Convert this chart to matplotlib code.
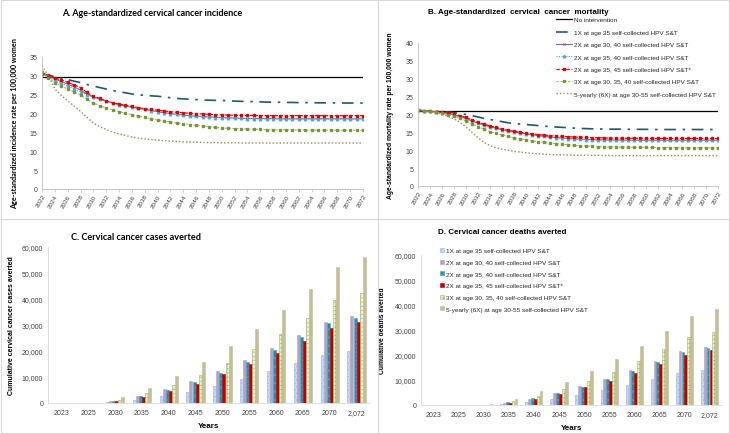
import numpy as np
import matplotlib
matplotlib.use("Agg")
import matplotlib.pyplot as plt
from matplotlib.lines import Line2D
from matplotlib.patches import Rectangle

plt.rcParams['font.family'] = ['Liberation Sans', 'DejaVu Sans']
plt.rcParams['hatch.linewidth'] = 0.4

years = list(range(2022, 2073))

labels = ["No intervention",
          "1X at age 35 self-collected HPV S&T",
          "2X at age 30, 40 self-collected HPV S&T",
          "2X at age 35, 40 self-collected HPV S&T",
          "2X at age 35, 45 self-collected HPV S&T*",
          "3X at age 30, 35, 40 self-collected HPV S&T",
          "5-yearly (6X) at age 30-55 self-collected HPV S&T"]

# ---- A. incidence per 100,000 (2022..2072)
inc_none = [29.7, 29.7, 29.7, 29.7, 29.7, 29.7, 29.7, 29.7, 29.7, 29.7,
            29.7, 29.7, 29.7, 29.7, 29.7, 29.7, 29.7, 29.7, 29.7, 29.7,
            29.7, 29.7, 29.7, 29.7, 29.7, 29.7, 29.7, 29.7, 29.7, 29.7,
            29.7, 29.7, 29.7, 29.7, 29.7, 29.7, 29.7, 29.7, 29.7, 29.7,
            29.7, 29.7, 29.7, 29.7, 29.7, 29.7, 29.7, 29.7, 29.7, 29.7, 29.7]
inc_1x = [30.5, 30.2, 29.8, 29.4, 29.0, 28.6, 28.2, 27.7, 27.3, 26.9,
          26.5, 26.1, 25.8, 25.5, 25.2, 25.0, 24.8, 24.7, 24.6, 24.4,
          24.2, 24.0, 23.9, 23.8, 23.7, 23.6, 23.55, 23.5, 23.5, 23.4,
          23.3, 23.25, 23.2, 23.15, 23.1, 23.05, 23.0, 23.0, 22.95, 22.95,
          22.9, 22.9, 22.9, 22.85, 22.85, 22.85, 22.8, 22.8, 22.8, 22.8, 22.8]
inc_2x3040 = [30.6, 30.0, 29.2, 28.5, 27.8, 27.1, 26.2, 25.2, 24.4, 23.9,
              23.3, 22.8, 22.4, 22.0, 21.7, 21.4, 21.1, 20.8, 20.5, 20.2,
              20.0, 19.8, 19.6, 19.4, 19.3, 19.2, 19.1, 19.0, 18.9, 18.85,
              18.8, 18.75, 18.7, 18.7, 18.65, 18.65, 18.65, 18.6, 18.6, 18.6,
              18.6, 18.6, 18.6, 18.6, 18.6, 18.6, 18.6, 18.6, 18.6, 18.6, 18.6]
inc_2x3540 = [30.6, 29.8, 28.6, 28.0, 27.3, 26.6, 25.7, 25.0, 24.3, 23.8,
              23.3, 22.8, 22.4, 22.0, 21.7, 21.4, 21.1, 20.8, 20.5, 20.2,
              20.0, 19.8, 19.6, 19.4, 19.25, 19.15, 19.05, 18.95, 18.85, 18.8,
              18.75, 18.7, 18.65, 18.65, 18.6, 18.6, 18.6, 18.6, 18.55, 18.55,
              18.55, 18.55, 18.55, 18.55, 18.55, 18.55, 18.55, 18.55, 18.55, 18.55, 18.55]
inc_2x3545 = [30.8, 30.2, 29.5, 28.9, 28.3, 27.6, 26.9, 25.6, 24.6, 24.0,
              23.4, 22.9, 22.5, 22.2, 21.9, 21.6, 21.3, 21.1, 20.9, 20.7,
              20.5, 20.35, 20.2, 20.1, 20.0, 19.9, 19.8, 19.7, 19.65, 19.6,
              19.55, 19.5, 19.5, 19.5, 19.45, 19.45, 19.45, 19.45, 19.45, 19.45,
              19.45, 19.45, 19.45, 19.45, 19.45, 19.45, 19.45, 19.45, 19.45, 19.45, 19.45]
inc_3x = [31.0, 29.5, 28.2, 27.3, 26.5, 25.7, 24.9, 23.8, 22.8, 22.1,
          21.5, 21.0, 20.5, 20.1, 19.7, 19.3, 19.0, 18.6, 18.3, 18.0,
          17.8, 17.5, 17.3, 17.1, 16.9, 16.7, 16.5, 16.35, 16.2, 16.1,
          16.0, 15.95, 15.9, 15.85, 15.8, 15.75, 15.7, 15.7, 15.7, 15.65,
          15.65, 15.65, 15.65, 15.6, 15.6, 15.6, 15.6, 15.6, 15.6, 15.6, 15.6]
inc_6x = [32.7, 30.0, 26.5, 24.8, 23.4, 22.0, 20.6, 19.0, 17.5, 16.5,
          15.8, 15.1, 14.6, 14.2, 13.8, 13.5, 13.3, 13.1, 12.95, 12.8,
          12.7, 12.6, 12.5, 12.45, 12.4, 12.35, 12.3, 12.3, 12.25, 12.25,
          12.25, 12.2, 12.2, 12.2, 12.2, 12.2, 12.2, 12.2, 12.2, 12.2,
          12.2, 12.2, 12.2, 12.2, 12.2, 12.2, 12.2, 12.2, 12.2, 12.2, 12.2]

# ---- B. mortality per 100,000 (2022..2072)
mort_none = [20.9, 20.9, 20.9, 20.9, 20.9, 20.9, 20.9, 20.9, 20.9, 20.9,
             20.9, 20.9, 20.9, 20.9, 20.9, 20.9, 20.9, 20.9, 20.9, 20.9,
             20.9, 20.9, 20.9, 20.9, 20.9, 20.9, 20.9, 20.9, 20.9, 20.9,
             20.9, 20.9, 20.9, 20.9, 20.9, 20.9, 20.9, 20.9, 20.9, 20.9,
             20.9, 20.9, 20.9, 20.9, 20.9, 20.9, 20.9, 20.9, 20.9, 20.9, 20.9]
mort_1x = [21.1, 21.05, 21.0, 20.9, 20.8, 20.7, 20.5, 20.3, 20.0, 19.7,
           19.3, 18.9, 18.6, 18.3, 18.0, 17.7, 17.5, 17.35, 17.2, 17.05,
           16.9, 16.75, 16.6, 16.5, 16.4, 16.3, 16.2, 16.1, 16.05, 16.0,
           15.95, 15.95, 15.9, 15.9, 15.9, 15.85, 15.85, 15.85, 15.85, 15.8,
           15.8, 15.8, 15.8, 15.8, 15.8, 15.8, 15.8, 15.8, 15.8, 15.8, 15.8]
mort_2x3040 = [21.2, 21.1, 20.9, 20.7, 20.5, 20.2, 19.9, 19.4, 18.9, 18.2,
               17.6, 17.1, 16.6, 16.2, 15.8, 15.4, 15.1, 14.85, 14.6, 14.35,
               14.1, 13.9, 13.7, 13.55, 13.4, 13.3, 13.2, 13.1, 13.0, 12.95,
               12.9, 12.9, 12.85, 12.85, 12.85, 12.8, 12.8, 12.8, 12.8, 12.8,
               12.8, 12.8, 12.8, 12.8, 12.8, 12.8, 12.8, 12.8, 12.8, 12.8, 12.8]
mort_2x3540 = [21.2, 21.1, 20.9, 20.7, 20.5, 20.2, 19.9, 19.4, 18.8, 18.1,
               17.5, 17.0, 16.5, 16.1, 15.7, 15.35, 15.05, 14.8, 14.55, 14.3,
               14.05, 13.85, 13.65, 13.5, 13.35, 13.25, 13.15, 13.05, 12.95, 12.9,
               12.85, 12.85, 12.8, 12.8, 12.8, 12.75, 12.75, 12.75, 12.75, 12.75,
               12.75, 12.75, 12.75, 12.75, 12.75, 12.75, 12.75, 12.75, 12.75, 12.75, 12.75]
mort_2x3545 = [21.2, 21.1, 21.0, 20.8, 20.6, 20.4, 20.1, 19.7, 19.2, 18.5,
               17.8, 17.3, 16.8, 16.4, 16.0, 15.6, 15.3, 15.05, 14.8, 14.6,
               14.4, 14.25, 14.1, 14.0, 13.9, 13.8, 13.7, 13.65, 13.6, 13.55,
               13.5, 13.45, 13.4, 13.4, 13.4, 13.35, 13.35, 13.35, 13.35, 13.3,
               13.3, 13.3, 13.3, 13.3, 13.3, 13.3, 13.3, 13.3, 13.3, 13.3, 13.3]
mort_3x = [21.2, 21.05, 20.9, 20.7, 20.4, 20.0, 19.6, 19.0, 18.2, 17.4,
           16.6, 15.9, 15.2, 14.7, 14.3, 13.9, 13.5, 13.2, 12.9, 12.6,
           12.4, 12.2, 12.0, 11.85, 11.7, 11.55, 11.4, 11.3, 11.2, 11.1,
           11.0, 10.95, 10.9, 10.9, 10.85, 10.85, 10.8, 10.8, 10.8, 10.8,
           10.75, 10.75, 10.75, 10.75, 10.7, 10.7, 10.7, 10.7, 10.7, 10.7, 10.7]
mort_6x = [21.2, 21.0, 20.8, 20.5, 20.1, 19.5, 18.8, 17.8, 16.5, 15.0,
           13.5, 12.2, 11.3, 10.7, 10.3, 10.0, 9.7, 9.5, 9.3, 9.15,
           9.0, 8.9, 8.8, 8.75, 8.7, 8.65, 8.6, 8.6, 8.6, 8.55,
           8.55, 8.55, 8.55, 8.5, 8.5, 8.5, 8.5, 8.5, 8.5, 8.5,
           8.5, 8.5, 8.5, 8.5, 8.5, 8.5, 8.5, 8.5, 8.5, 8.5, 8.5]

# ---- C / D cumulative averted
bar_cats = ["2023", "2025", "2030", "2035", "2040", "2045", "2050", "2055",
            "2060", "2065", "2070", "2,072"]
cases_1x = [0, 0, 300, 1200, 2600, 4400, 6600, 9300, 12200, 15200, 18600, 19900]
cases_2x3040 = [0, 0, 800, 2600, 5200, 8400, 12200, 16400, 21200, 26100, 31300, 33500]
cases_2x3540 = [0, 0, 900, 2600, 5000, 8100, 11700, 15900, 20500, 25400, 30600, 32800]
cases_2x3545 = [0, 0, 600, 2300, 4600, 7500, 11000, 15000, 19300, 24000, 29000, 31000]
cases_3x = [0, 0, 1300, 3700, 6800, 10800, 15400, 20800, 26600, 32800, 39500, 42300]
cases_6x = [0, 100, 2300, 5900, 10400, 15800, 21900, 28600, 35900, 43800, 52500, 56000]

deaths_1x = [0, 100, 100, 500, 1300, 2600, 4200, 6100, 8200, 10600, 13000, 14200]
deaths_2x3040 = [0, 0, 100, 800, 2600, 4800, 7500, 10600, 14100, 17800, 21800, 23400]
deaths_2x3540 = [0, 0, 100, 1100, 2700, 4800, 7400, 10300, 13700, 17300, 21200, 22900]
deaths_2x3545 = [0, 0, 100, 1000, 2600, 4600, 7100, 9800, 13000, 16500, 20200, 21900]
deaths_3x = [0, 0, 200, 1600, 3800, 6400, 9700, 13400, 17600, 22300, 27300, 29300]
deaths_6x = [0, 0, 400, 2600, 5700, 9400, 13700, 18500, 23700, 29500, 35700, 38300]

W, H = 730, 435
fig = plt.figure(figsize=(W / 100, H / 100), dpi=100)


def box(l, t, r, b):
    return [l / W, 1 - b / H, (r - l) / W, (b - t) / H]


tick_col = '#404040'
line_styles = [
    dict(color='black', lw=0.9, ls='-'),
    dict(color='#215968', lw=1.2, ls=(0, (7, 4, 1.5, 4))),
    dict(color='#7F62A8', lw=0.8, ls='-', marker='x', ms=1.8, mew=0.5),
    dict(color='#4BACC6', lw=0.8, ls=(0, (1, 1.2)), marker='^', ms=1.8),
    dict(color='#E00000', lw=0.8, ls=(0, (3, 1.5)), marker='s', ms=1.6),
    dict(color='#9BBB59', lw=0.8, ls=(0, (2, 1.5)), marker='s', ms=1.4, mfc='#77933C', mec='#77933C'),
    dict(color='#948A54', lw=1.0, ls=(0, (1, 1.5))),
]


def style_line_axes(ax, ymax):
    ax.set_xlim(2022, 2072)
    ax.set_ylim(0, ymax)
    ax.set_yticks(range(0, ymax + 1, 5))
    ax.set_xticks(range(2022, 2073, 2))
    ax.tick_params(axis='x', labelsize=4.6, labelrotation=60, colors=tick_col, length=2, width=0.5,
                   color='#BFBFBF', pad=1)
    ax.tick_params(axis='y', labelsize=5.0, colors=tick_col, length=0)
    for lab in ax.get_xticklabels():
        lab.set_ha('right')
        lab.set_rotation_mode('anchor')
    for s in ['top', 'right']:
        ax.spines[s].set_visible(False)
    for s in ['left', 'bottom']:
        ax.spines[s].set_color('#BFBFBF')
        ax.spines[s].set_linewidth(0.6)


# A
axA = fig.add_axes(box(42, 58, 363, 190))
inc_series = [inc_none, inc_1x, inc_2x3040, inc_2x3540, inc_2x3545, inc_3x, inc_6x]
for vals, st, lab in zip(inc_series, line_styles, labels):
    axA.plot(years, vals, label=lab, **st)
style_line_axes(axA, 35)
axA.set_ylabel("Age-standardized incidence rate per 100,000 women", fontsize=5.2,
               fontweight='bold', family=['Lato', 'DejaVu Sans'], labelpad=8)
fig.text(152 / W, 1 - 14 / H, "A. Age-standardized cervical cancer incidence", ha='center', va='center',
         fontsize=6.4, fontweight='bold', family=['Lato', 'DejaVu Sans'])

# B
axB = fig.add_axes(box(418, 44, 718, 187))
mort_series = [mort_none, mort_1x, mort_2x3040, mort_2x3540, mort_2x3545, mort_3x, mort_6x]
for vals, st, lab in zip(mort_series, line_styles, labels):
    axB.plot(years, vals, label=lab, **st)
style_line_axes(axB, 40)
axB.set_ylabel("Age-standardized mortality rate per 100,000 women", fontsize=4.9,
               fontweight='bold', labelpad=8)
fig.text(518 / W, 1 - 13 / H, "B. Age-standardized  cervical  cancer  mortality", ha='center', va='center',
         fontsize=5.8, fontweight='bold')
axB.legend(loc='upper left', bbox_to_anchor=(556 / W, 1 - 18 / H), bbox_transform=fig.transFigure,
           frameon=False, fontsize=4.6, handlelength=2.5, labelspacing=1.08, handletextpad=0.3,
           borderaxespad=0, borderpad=0, labelcolor='#262626')

# bars
bar_styles = [
    dict(facecolor='#C6D9F1', edgecolor='#8EB4E3', hatch='.....'),
    dict(facecolor='#B3A2C7', edgecolor='#B3A2C7'),
    dict(facecolor='#31859C', edgecolor='#4BACC6', hatch='xxxx'),
    dict(facecolor='#C00000', edgecolor='#C00000'),
    dict(facecolor='#EBF1DE', edgecolor='#9BBB59', hatch='++++'),
    dict(facecolor='#C4BD97', edgecolor='#C4BD97'),
]


def draw_bars(ax, series, ymax):
    x = np.arange(len(bar_cats))
    n = len(series)
    bw = 0.115
    for i, (vals, st, lab) in enumerate(zip(series, bar_styles, labels[1:])):
        ax.bar(x + (i - (n - 1) / 2) * bw, vals, width=bw * 0.95, label=lab, linewidth=0.4, **st)
    ax.set_xlim(-0.5, len(bar_cats) - 0.5)
    ax.set_ylim(0, ymax)
    ax.set_xticks(x)
    ax.set_xticklabels(bar_cats)
    ax.set_yticks(range(0, ymax + 1, 10000))
    ax.set_yticklabels([f"{v:,}" for v in range(0, ymax + 1, 10000)])
    ax.tick_params(axis='both', labelsize=5.0, colors=tick_col, length=0)
    ax.tick_params(axis='x', pad=4)
    for s in ['top', 'right']:
        ax.spines[s].set_visible(False)
    for s in ['left', 'bottom']:
        ax.spines[s].set_color('#D9D9D9')
        ax.spines[s].set_linewidth(0.6)
    ax.set_xlabel("Years", fontsize=5.8, fontweight='bold', labelpad=5)


# C
axC = fig.add_axes(box(48, 248, 370, 404))
draw_bars(axC, [cases_1x, cases_2x3040, cases_2x3540, cases_2x3545, cases_3x, cases_6x], 60000)
axC.set_ylabel("Cumulative cervical cancer cases averted", fontsize=5.0, fontweight='bold', labelpad=5)
fig.text(136 / W, 1 - 238 / H, "C. Cervical cancer cases averted", ha='center', va='center',
         fontsize=6.6, fontweight='bold', family=['Lato', 'DejaVu Sans'])

# D
axD = fig.add_axes(box(421, 256, 722, 406))
draw_bars(axD, [deaths_1x, deaths_2x3040, deaths_2x3540, deaths_2x3545, deaths_3x, deaths_6x], 60000)
axD.set_ylabel("Cumulative deaths averted", fontsize=4.9, fontweight='bold', labelpad=6)
fig.text(502 / W, 1 - 233 / H, "D. Cervical cancer deaths averted", ha='center', va='center',
         fontsize=5.8, fontweight='bold')
axD.legend(loc='upper left', bbox_to_anchor=(440 / W, 1 - 249 / H), bbox_transform=fig.transFigure,
           frameon=False, fontsize=4.6, handlelength=0.6, handleheight=0.6, labelspacing=1.0,
           handletextpad=0.3, borderaxespad=0, borderpad=0, labelcolor='#262626')

# panel frames
sep = '#D9D9D9'
fig.add_artist(Line2D([378 / W, 378 / W], [0, 1], color=sep, lw=0.8))
fig.add_artist(Line2D([0, 1], [1 - 220 / H, 1 - 220 / H], color=sep, lw=0.8))
fig.add_artist(Rectangle((0.002, 0.002), 0.996, 0.996, fill=False, edgecolor=sep, lw=0.8,
                         transform=fig.transFigure))

fig.savefig("out.png", dpi=100)
